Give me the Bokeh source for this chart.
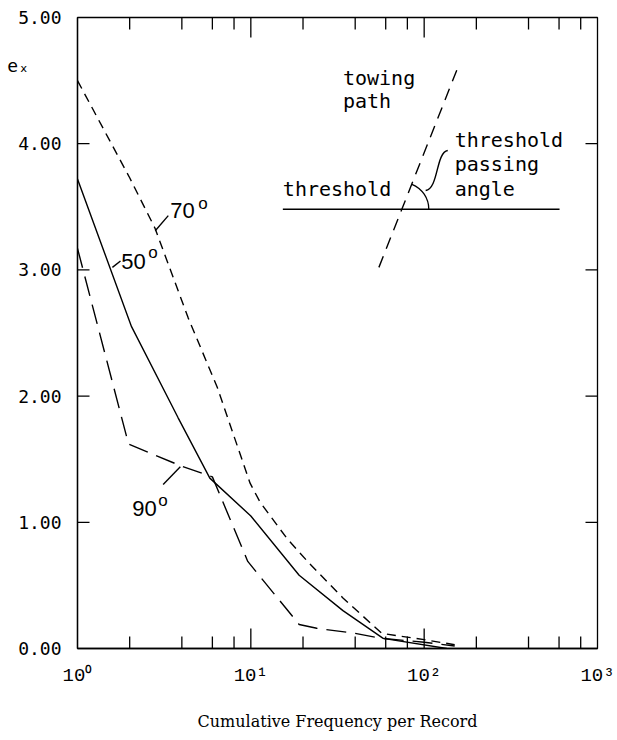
from bokeh.plotting import figure
from bokeh.models import FixedTicker, NumeralTickFormatter
from bokeh.core.properties import value
from bokeh.embed import file_html
from bokeh.resources import INLINE
import math

# ---- data ----
freq_70 = [1, 2, 2.8, 4.35, 6.4, 9.9, 11.3, 16.2, 21.9, 34, 57, 100, 150]
ex_70 = [4.50, 3.73, 3.33, 2.62, 2.07, 1.31, 1.16, 0.87, 0.67, 0.40, 0.12, 0.07, 0.03]

freq_50 = [1, 2.05, 3.8, 5.8, 10, 19, 34, 58, 135]
ex_50 = [3.72, 2.55, 1.83, 1.35, 1.05, 0.58, 0.30, 0.08, 0.0]

freq_90 = [1, 1.97, 3.9, 6.0, 9.6, 19, 24, 40, 57, 100, 150]
ex_90 = [3.17, 1.62, 1.45, 1.36, 0.69, 0.19, 0.16, 0.12, 0.08, 0.05, 0.02]

x_major = [1, 10, 100, 1000]
x_minor = [2, 4, 6, 8, 20, 40, 60, 80, 200, 400, 600, 800]
x_labels = ["10⁰", "10¹", "10²", "10³"]
y_ticks = [0, 1, 2, 3, 4, 5]
y_title_pos = 4.62
y_title = "eₓ\u00a0\u00a0\u00a0"

# inset sketch (threshold / towing path)
threshold_x = [15.3, 604]
threshold_y = [3.48, 3.48]
towing_x = [54.8, 156]
towing_y = [3.02, 4.60]
angle_center = (74.3, 3.48)
angle_deg = 68

# curve labels
curve_label_text = ["70", "50", "90"]
curve_label_x = [3.43, 1.79, 2.07]
curve_label_y = [3.47, 3.07, 1.11]
deg_x = [4.97, 2.56, 2.92]
deg_y = [3.53, 3.14, 1.17]
leader_x0 = [2.81, 1.59, 3.92]
leader_y0 = [3.31, 3.02, 1.44]
leader_x1 = [3.34, 1.77, 3.12]
leader_y1 = [3.43, 3.07, 1.30]

note_text = ["towing", "path", "threshold", "threshold", "passing", "angle"]
note_x = [34.0, 34.0, 15.3, 150, 150, 150]
note_y = [4.52, 4.34, 3.645, 4.03, 3.84, 3.645]

XMIN, XMAX, YMIN, YMAX = 1, 1000, 0, 5
W, H = 617, 740
BL, BR, BT, BB = 77, 20, 17, 92

p = figure(width=W, height=H, x_axis_type="log", x_range=(XMIN, XMAX), y_range=(YMIN, YMAX),
           output_backend="svg", toolbar_location=None,
           min_border_left=BL, min_border_right=BR, min_border_top=BT, min_border_bottom=BB)
p.xgrid.visible = False
p.ygrid.visible = False
p.outline_line_color = "black"
p.outline_line_width = 1.3
p.background_fill_color = "white"
p.border_fill_color = "white"

mono = "DejaVu Sans Mono"

# bottom axis
xa = p.xaxis[0]
xa.ticker = FixedTicker(ticks=x_major, minor_ticks=x_minor)
xa.major_label_overrides = {v: s for v, s in zip(x_major, x_labels)}
xa.major_tick_in = 0
xa.major_tick_out = 0
xa.minor_tick_in = 0
xa.minor_tick_out = 0
xa.major_label_standoff = 16
xa.major_label_text_font = "Liberation Mono"
xa.major_label_text_font_size = "19px"
xa.major_label_text_color = "black"
xa.axis_line_color = "black"
xa.axis_line_width = 1.3
xa.axis_label = "Cumulative Frequency per Record"
xa.axis_label_text_font = "DejaVu Serif"
xa.axis_label_text_font_style = "normal"
xa.axis_label_text_font_size = "16px"
xa.axis_label_text_color = "black"
xa.axis_label_standoff = 22

# left axis (tick labels plus the e_x title as an extra labelled position)
ya = p.yaxis[0]
ya.ticker = FixedTicker(ticks=y_ticks + [y_title_pos])
ya.formatter = NumeralTickFormatter(format="0.00")
ya.major_label_overrides = {y_title_pos: y_title}
ya.major_tick_in = 0
ya.major_tick_out = 0
ya.minor_tick_in = 0
ya.minor_tick_out = 0
ya.major_label_standoff = 16
ya.major_label_text_font = mono
ya.major_label_text_font_size = "18px"
ya.major_label_text_color = "black"
ya.axis_line_color = "black"
ya.axis_line_width = 1.3

# inward tick marks drawn from the tick lists
inner_x_major = x_major[1:-1]
inner_y = y_ticks[1:-1]
units_per_px = (YMAX - YMIN) / (H - BT - BB)
tick_kw = dict(length_units="screen", angle_units="deg", line_color="black", line_width=1.3)
p.ray(x=inner_x_major, y=[YMIN] * len(inner_x_major), length=20, angle=90, **tick_kw)
p.ray(x=x_minor, y=[YMIN] * len(x_minor), length=12, angle=90, **tick_kw)
p.ray(x=[XMIN] * len(inner_y), y=inner_y, length=12, angle=0, **tick_kw)
p.ray(x=[XMAX] * len(inner_y), y=inner_y, length=12, angle=180, **tick_kw)

# top ticks as one broken polyline (NaN separators)
nan = float("nan")
top_xs, top_ys = [], []
for xv in inner_x_major:
    top_xs += [xv, xv, nan]
    top_ys += [YMAX, YMAX - 20 * units_per_px, nan]
for xv in x_minor:
    top_xs += [xv, xv, nan]
    top_ys += [YMAX, YMAX - 12 * units_per_px, nan]
p.line(top_xs, top_ys, line_color="black", line_width=1.3)

# curves
p.line(freq_70, ex_70, line_color="black", line_width=1.4, line_dash="9 6")
p.line(freq_50, ex_50, line_color="black", line_width=1.4)
p.line(freq_90, ex_90, line_color="black", line_width=1.4, line_dash="20 9")

# curve labels and leaders
p.segment(leader_x0, leader_y0, leader_x1, leader_y1, line_color="black", line_width=1.4)
p.text(curve_label_x, curve_label_y, text=curve_label_text, text_font=value("Liberation Sans"),
       text_font_size="22px", text_baseline="middle", text_align="left", text_color="black")
p.text(deg_x, deg_y, text=["o", "o", "o"], text_font=value("Liberation Sans"),
       text_font_size="17px", text_baseline="middle", text_align="left", text_color="black")

# inset sketch
p.line(threshold_x, threshold_y, line_color="black", line_width=1.4)
p.line(towing_x, towing_y, line_color="black", line_width=1.4, line_dash="12 8")
p.arc(x=[angle_center[0]], y=[angle_center[1]], radius=27, radius_units="screen",
      start_angle=0, end_angle=math.radians(angle_deg), direction="anticlock",
      line_color="black", line_width=1.3)
p.bezier(x0=[136.8], y0=[3.946], x1=[102], y1=[3.629], cx0=[116.6], cy0=[3.93],
         cx1=[121.3], cy1=[3.645], line_color="black", line_width=1.4)
p.text(note_x, note_y, text=note_text, text_font=value(mono), text_font_size="20px",
       text_baseline="middle", text_align="left", text_color="black")

open("out.html", "w").write(file_html(p, INLINE))
